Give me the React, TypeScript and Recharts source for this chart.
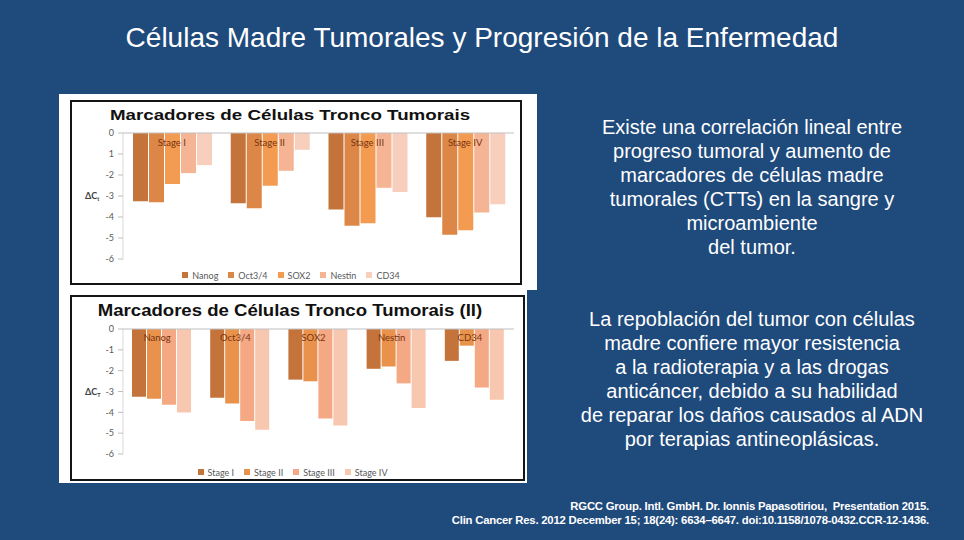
import { BarChart, Bar, XAxis, YAxis, Legend } from "recharts"

const markers = ["Nanog", "Oct3/4", "SOX2", "Nestin", "CD34"]
const stages = ["Stage I", "Stage II", "Stage III", "Stage IV"]

// ΔCT per marker (Nanog, Oct3/4, SOX2, Nestin, CD34), one array per stage
const stageI = [-3.25, -3.3, -2.43, -1.91, -1.53]
const stageII = [-3.35, -3.58, -2.51, -1.8, -0.8]
const stageIII = [-3.64, -4.42, -4.3, -2.61, -2.81]
const stageIV = [-4.01, -4.84, -4.63, -3.79, -3.39]

const yTicks = [0, -1, -2, -3, -4, -5, -6]
const yLabelsTop = ["0", "1", "-2", "-3", "-4", "-5", "-6"]
const yLabelsBottom = ["0", "-1", "-2", "-3", "-4", "-5", "-6"]

const markerColors = ["#C4743A", "#DC8747", "#F39B50", "#F5B595", "#F8CFBC"]
const stageColors = ["#C4743A", "#E8924C", "#F4A883", "#F8C7B0"]

const stageValues = [stageI, stageII, stageIII, stageIV]

const byStage = stages.map((s, i) => {
  const row: Record<string, any> = { name: s }
  markers.forEach((m, j) => (row[m] = stageValues[i][j]))
  return row
})

const byMarker = markers.map((m, j) => {
  const row: Record<string, any> = { name: m }
  stages.forEach((s, i) => (row[s] = stageValues[i][j]))
  return row
})

const tickFont = "Lato, 'Open Sans', sans-serif"

function TopTick(props: any) {
  const { x, y, payload, dy, dx } = props
  return (
    <text x={x + (dx || 0)} y={y + dy} textAnchor="middle" fontSize={9.5} fill="#7A3410" fontFamily={tickFont}>
      {payload.value}
    </text>
  )
}

function DeltaLabel(props: any) {
  const { viewBox, sub } = props
  const cy = viewBox.y + viewBox.height / 2
  return (
    <text x={15} y={cy + 3} fontSize={9} fontWeight="bold" fill="#404040" fontFamily={tickFont}>
      ΔC
      <tspan dy={2} fontSize={5.5}>{sub}</tspan>
    </text>
  )
}

function legendText(value: string) {
  return <span style={{ color: "#595959", fontSize: 9, fontFamily: tickFont }}>{value}</span>
}

function ChartBox(props: {
  left: number
  top: number
  width: number
  height: number
  title: string
  titleTop: number
  titleSize: number
  titleScale: number
  children: any
}) {
  const { left, top, width, height, title, titleTop, titleSize, titleScale, children } = props
  return (
    <div style={{ position: "absolute", left, top, width, height }}>
      {children}
      <div
        style={{
          position: "absolute",
          left: 0,
          top: titleTop,
          width: 440,
          textAlign: "center",
          fontFamily: "'Liberation Sans', Arial, sans-serif",
          fontWeight: "bold",
          fontSize: titleSize,
          color: "#111",
          lineHeight: "18px",
          whiteSpace: "nowrap",
          transform: `scaleX(${titleScale})`,
          transformOrigin: "220px 50%",
        }}
      >
        {title}
      </div>
      <div
        style={{
          position: "absolute",
          inset: 0,
          border: "2px solid #151515",
          pointerEvents: "none",
        }}
      />
    </div>
  )
}

const slideText: React.CSSProperties = {
  position: "absolute",
  color: "#fff",
  fontFamily: "'Liberation Sans', Arial, sans-serif",
  textAlign: "center",
}

export default function App() {
  return (
    <div
      style={{
        position: "absolute",
        left: 0,
        top: 0,
        width: 964,
        height: 540,
        background: "#1F4A7C",
        overflow: "hidden",
      }}
    >
      <div style={{ ...slideText, left: 0, top: 22, width: 964, fontSize: 28, lineHeight: "32px" }}>
        Células Madre Tumorales y Progresión de la Enfermedad
      </div>

      <div style={{ position: "absolute", left: 59, top: 94, width: 478, height: 196, background: "#fff" }} />
      <div style={{ position: "absolute", left: 59, top: 290, width: 468, height: 193, background: "#fff" }} />

      <ChartBox
        left={70}
        top={100}
        width={452}
        height={185}
        title="Marcadores de Células Tronco Tumorais"
        titleTop={5.5}
        titleSize={15}
        titleScale={1.25}
      >
        <BarChart
          width={452}
          height={185}
          data={byStage}
          margin={{ top: 32, right: 8, bottom: 26, left: 0 }}
          barCategoryGap={10}
          barGap={1}
        >
          <YAxis
            domain={[-6, 0]}
            ticks={yTicks}
            width={53}
            tickSize={5}
            tickMargin={4}
            axisLine={{ stroke: "#D9D9D9" }}
            tickLine={{ stroke: "#BFBFBF" }}
            tick={{ fontSize: 9, fill: "#595959", fontFamily: tickFont }}
            tickFormatter={(v: number) => yLabelsTop[yTicks.indexOf(v)]}
            label={(p: any) => <DeltaLabel {...p} sub="t" />}
          />
          <Legend
            layout="horizontal"
            verticalAlign="middle"
            align="center"
            iconType="square"
            iconSize={6}
            itemSorter={(item: any) => markers.indexOf(item.value)}
            formatter={legendText}
            wrapperStyle={{ top: 168, left: 0, width: 452, lineHeight: "12px" }}
          />
          {markers.map((m, j) => (
            <Bar key={m} dataKey={m} fill={markerColors[j]} isAnimationActive={false} />
          ))}
          <XAxis
            dataKey="name"
            orientation="top"
            height={1}
            tickSize={0}
            tickLine={false}
            axisLine={{ stroke: "#BFBFBF" }}
            tick={(p: any) => <TopTick {...p} dy={15} />}
          />
        </BarChart>
      </ChartBox>

      <ChartBox
        left={70}
        top={295}
        width={455}
        height={186}
        title="Marcadores de Células Tronco Tumorais (II)"
        titleTop={6.8}
        titleSize={16}
        titleScale={1.16}
      >
        <BarChart
          width={455}
          height={186}
          data={byMarker}
          margin={{ top: 33, right: 11, bottom: 27, left: 0 }}
          barCategoryGap={9}
          barGap={1}
        >
          <YAxis
            domain={[-6, 0]}
            ticks={yTicks}
            width={53}
            tickSize={5}
            tickMargin={4}
            axisLine={{ stroke: "#D9D9D9" }}
            tickLine={{ stroke: "#BFBFBF" }}
            tick={{ fontSize: 9, fill: "#595959", fontFamily: tickFont }}
            tickFormatter={(v: number) => yLabelsBottom[yTicks.indexOf(v)]}
            label={(p: any) => <DeltaLabel {...p} sub="T" />}
          />
          <Legend
            layout="horizontal"
            verticalAlign="middle"
            align="center"
            iconType="square"
            iconSize={6}
            itemSorter={(item: any) => stages.indexOf(item.value)}
            formatter={legendText}
            wrapperStyle={{ top: 170, left: 0, width: 455, lineHeight: "12px" }}
          />
          {stages.map((s, i) => (
            <Bar key={s} dataKey={s} fill={stageColors[i]} isAnimationActive={false} />
          ))}
          <XAxis
            dataKey="name"
            orientation="top"
            height={1}
            tickSize={0}
            tickLine={false}
            axisLine={{ stroke: "#BFBFBF" }}
            tick={(p: any) => <TopTick {...p} dy={14} dx={-5} />}
          />
        </BarChart>
      </ChartBox>

      <div style={{ ...slideText, left: 552, top: 115, width: 400, fontSize: 20, lineHeight: "24px" }}>
        Existe una correlación lineal entre
        <br />
        progreso tumoral y aumento de
        <br />
        marcadores de células madre
        <br />
        tumorales (CTTs) en la sangre y
        <br />
        microambiente
        <br />
        del tumor.
      </div>

      <div style={{ ...slideText, left: 552, top: 307, width: 400, fontSize: 20, lineHeight: "24px" }}>
        La repoblación del tumor con células
        <br />
        madre confiere mayor resistencia
        <br />
        a la radioterapia y a las drogas
        <br />
        anticáncer, debido a su habilidad
        <br />
        de reparar los daños causados al ADN
        <br />
        por terapias antineoplásicas.
      </div>

      <div
        style={{
          ...slideText,
          textAlign: "right",
          right: 35,
          top: 499,
          width: 600,
          fontSize: 11.3,
          fontWeight: "bold",
          lineHeight: "14px",
          letterSpacing: "-0.2px",
        }}
      >
        RGCC Group. Intl. GmbH. Dr. Ionnis Papasotiriou,&nbsp; Presentation 2015.
        <br />
        Clin Cancer Res. 2012 December 15; 18(24): 6634–6647. doi:10.1158/1078-0432.CCR-12-1436.
      </div>
    </div>
  )
}
